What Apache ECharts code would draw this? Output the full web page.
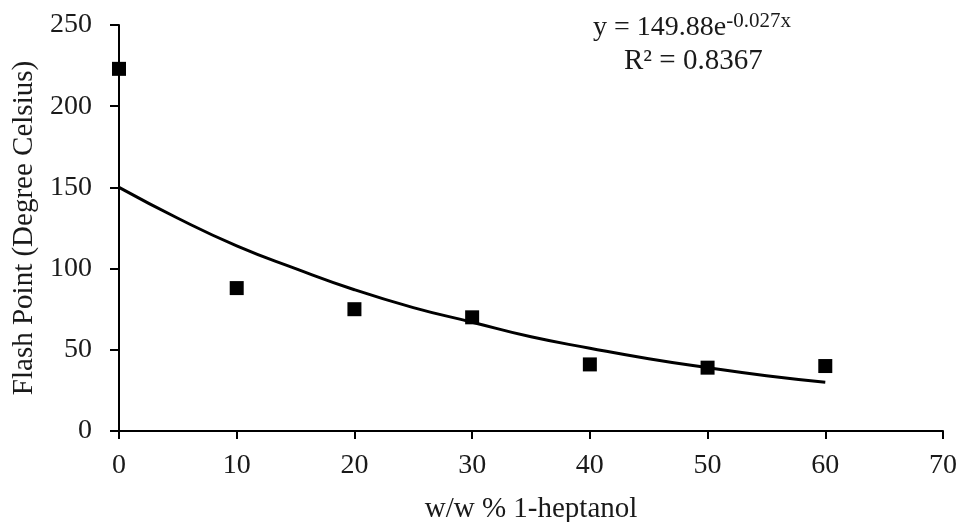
<!DOCTYPE html>
<html>
<head>
<meta charset="utf-8">
<script src="https://cdn.jsdelivr.net/npm/echarts@6/dist/echarts.min.js"></script>
<style>html,body{margin:0;padding:0;background:#fff;}#c{width:960px;height:522px;}</style>
</head>
<body>
<div id="c"></div>
<script>
var xValues = [0, 10, 20, 30, 40, 50, 60];
var flashPoint = [223, 88, 75, 70, 41, 39, 40];
var trendX = [0, 5, 10, 15, 20, 25, 30, 35, 40, 45, 50, 55, 60];
var trendY = [150, 131, 114, 100, 87, 76, 67, 58, 51, 44.5, 39, 34, 30];
var xTicks = [0, 10, 20, 30, 40, 50, 60, 70];
var yTicks = [0, 50, 100, 150, 200, 250];

var font = 'Liberation Serif';
var chart = echarts.init(document.getElementById('c'));
chart.setOption({
  backgroundColor: '#fff',
  animation: false,
  grid: { left: 119, right: 17, top: 25, bottom: 91, outerBoundsMode: 'none', containLabel: false },
  xAxis: {
    type: 'value', min: xTicks[0], max: xTicks[xTicks.length - 1], interval: 10,
    name: 'w/w % 1-heptanol', nameLocation: 'middle', nameGap: 64,
    nameTextStyle: { fontFamily: font, fontSize: 29, color: '#1a1a1a' },
    axisLine: { show: true, lineStyle: { color: '#000', width: 2 } },
    axisTick: { show: true, inside: false, length: 8, lineStyle: { color: '#000', width: 2 } },
    axisLabel: { fontFamily: font, fontSize: 28, color: '#1a1a1a', margin: 21 },
    splitLine: { show: false }
  },
  yAxis: {
    type: 'value', min: yTicks[0], max: yTicks[yTicks.length - 1], interval: 50,
    name: 'Flash Point (Degree Celsius)', nameLocation: 'middle', nameGap: 75,
    nameTextStyle: { fontFamily: font, fontSize: 29, color: '#1a1a1a' },
    axisLine: { show: true, lineStyle: { color: '#000', width: 2 } },
    axisTick: { show: true, inside: false, length: 9, lineStyle: { color: '#000', width: 2 } },
    axisLabel: { fontFamily: font, fontSize: 28, color: '#1a1a1a', margin: 27 },
    splitLine: { show: false }
  },
  graphic: [
    {
      type: 'text', left: 593, top: 11,
      style: {
        text: '{b|y = 149.88e}{s|-0.027x}',
        rich: {
          b: { fontFamily: font, fontSize: 28, fill: '#1a1a1a', verticalAlign: 'bottom' },
          s: { fontFamily: font, fontSize: 21, fill: '#1a1a1a', verticalAlign: 'top', padding: [0, 0, 10, 0] }
        }
      }
    },
    {
      type: 'text', left: 624, top: 47,
      style: { text: 'R² = 0.8367', fontFamily: font, fontSize: 29, fill: '#1a1a1a' }
    }
  ],
  series: [
    {
      type: 'line', data: trendX.map(function (x, i) { return [x, trendY[i]]; }),
      smooth: true, showSymbol: false, symbol: 'none',
      lineStyle: { color: '#000', width: 3 }, z: 2
    },
    {
      type: 'scatter', data: xValues.map(function (x, i) { return [x, flashPoint[i]]; }),
      symbol: 'rect', symbolSize: 14,
      itemStyle: { color: '#000', opacity: 1 }, z: 3
    }
  ]
});
</script>
</body>
</html>
